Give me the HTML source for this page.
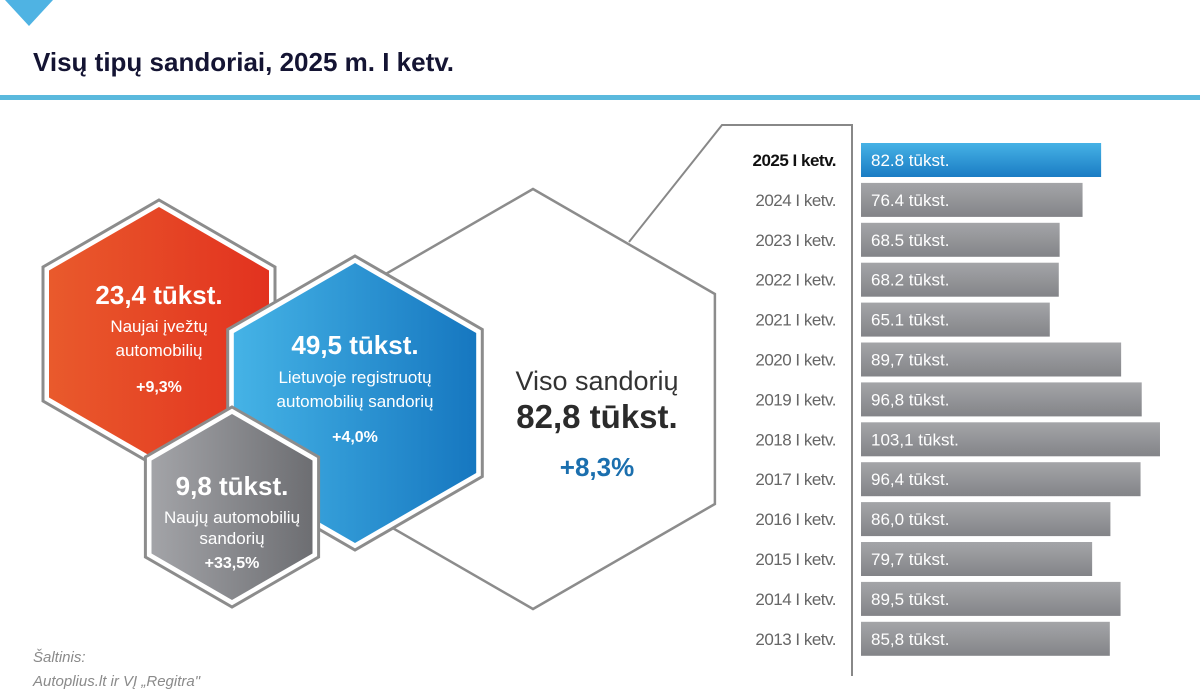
<!DOCTYPE html>
<html><head><meta charset="utf-8">
<style>
body{margin:0;width:1200px;height:700px;overflow:hidden;background:#fff;font-family:"Liberation Sans",sans-serif;position:relative}
svg{position:absolute;left:0;top:0}
</style></head>
<body>
<svg width="1200" height="700" viewBox="0 0 1200 700">
<defs>
<linearGradient id="gRed" x1="0" x2="1"><stop offset="0" stop-color="#e95a2c"/><stop offset="1" stop-color="#e2321f"/></linearGradient>
<linearGradient id="gBlue" x1="0" x2="1"><stop offset="0" stop-color="#45b3e6"/><stop offset="1" stop-color="#1677c0"/></linearGradient>
<linearGradient id="gGray" x1="0" x2="1"><stop offset="0" stop-color="#a3a4a8"/><stop offset="1" stop-color="#6d6e72"/></linearGradient>
<linearGradient id="bGray" x1="0" y1="0" x2="0" y2="1"><stop offset="0" stop-color="#a4a5a8"/><stop offset="1" stop-color="#838488"/></linearGradient>
<linearGradient id="bBlue" x1="0" y1="0" x2="0" y2="1"><stop offset="0" stop-color="#46b2e6"/><stop offset="1" stop-color="#1a7cc4"/></linearGradient>
</defs>
<polygon points="5,0 53,0 29,26" fill="#4fb3e3"/>
<text x="33" y="71" font-size="26" font-weight="bold" fill="#141433">Visų tipų sandoriai, 2025 m. I ketv.</text>
<rect x="0" y="95" width="1200" height="5" fill="#5ab9dd"/>
<g id="hexes"></g>
<polyline points="629,242 722,125 852,125 852,676" fill="none" stroke="#888" stroke-width="2"/>
<g id="bars"></g>
<text x="33" y="662" font-size="15" font-style="italic" fill="#8a8a8a">Šaltinis:</text>
<text x="33" y="686" font-size="15" font-style="italic" fill="#8a8a8a">Autoplius.lt ir VĮ „Regitra"</text>
</svg>
<script>
const categories=["2025 I ketv.","2024 I ketv.","2023 I ketv.","2022 I ketv.","2021 I ketv.","2020 I ketv.","2019 I ketv.","2018 I ketv.","2017 I ketv.","2016 I ketv.","2015 I ketv.","2014 I ketv.","2013 I ketv."];
const values=[82.8,76.4,68.5,68.2,65.1,89.7,96.8,103.1,96.4,86.0,79.7,89.5,85.8];
const valueLabels=["82.8 tūkst.","76.4 tūkst.","68.5 tūkst.","68.2 tūkst.","65.1 tūkst.","89,7 tūkst.","96,8 tūkst.","103,1 tūkst.","96,4 tūkst.","86,0 tūkst.","79,7 tūkst.","89,5 tūkst.","85,8 tūkst."];
const NS="http://www.w3.org/2000/svg";
function mk(t,a,p){const e=document.createElementNS(NS,t);for(const k in a)e.setAttribute(k,a[k]);p.appendChild(e);return e;}
function hexPts(cx,cy,R){let s=[];for(let i=0;i<6;i++){const a=Math.PI/180*(60*i-90);s.push((cx+R*Math.cos(a)).toFixed(1)+","+(cy+R*Math.sin(a)).toFixed(1));}return s.join(" ");}
const H=document.getElementById("hexes");
// big white hexagon
const big=mk("polygon",{points:hexPts(533,399,210),fill:"#fff",stroke:"#8c8c8c","stroke-width":2.5},H);


function colorHex(name,cx,cy,R,fill){
  const o=mk("polygon",{points:hexPts(cx,cy,R),fill:"#fff",stroke:"#8c8c8c","stroke-width":3},H);
  
  
  const f=mk("polygon",{points:hexPts(cx,cy,R-7),fill:fill},H);
  
  
}
colorHex('imported-hexagon',159,334,134,"url(#gRed)");
colorHex('domestic-hexagon',355,403,147,"url(#gBlue)");
colorHex('new-cars-hexagon',232,507,100,"url(#gGray)");
function txt(name,x,y,s,w,fill,str){const t=mk("text",{x:x,y:y,"font-size":s,"font-weight":w,fill:fill,"text-anchor":"middle"},H);t.textContent=str;}
txt('imported-value',159,304,26,"bold","#fff","23,4 tūkst.");
txt('imported-label',159,332,17,"normal","#fff","Naujai įvežtų");
txt('imported-label-2',159,356,17,"normal","#fff","automobilių");
txt('imported-change',159,392,16,"bold","#fff","+9,3%");
txt('domestic-value',355,354,26,"bold","#fff","49,5 tūkst.");
txt('domestic-label',355,383,17,"normal","#fff","Lietuvoje registruotų");
txt('domestic-label-2',355,407,17,"normal","#fff","automobilių sandorių");
txt('domestic-change',355,442,16,"bold","#fff","+4,0%");
txt('new-cars-value',232,495,26,"bold","#fff","9,8 tūkst.");
txt('new-cars-label',232,523,17,"normal","#fff","Naujų automobilių");
txt('new-cars-label-2',232,544,17,"normal","#fff","sandorių");
txt('new-cars-change',232,568,16,"bold","#fff","+33,5%");
txt('total-label',597,390,27,"normal","#333","Viso sandorių");
txt('total-value',597,428,33,"bold","#2b2b2b","82,8 tūkst.");
txt('total-change',597,476,26,"bold","#1b6fae","+8,3%");
// bar chart
const B=document.getElementById("bars");
const x0=861, scale=2.9, y0=143, pitch=39.9, bh=34;
const xs=v=>v*scale, ys=i=>y0+i*pitch;
categories.forEach((c,i)=>{
  const y=ys(i);
  const l=mk("text",{x:836,y:y+bh/2+6,"font-size":17,"text-anchor":"end",fill:i==0?"#111":"#666","font-weight":i==0?"bold":"normal","letter-spacing":"-0.5"},B);
  l.textContent=c;
  
  
  const r=mk("rect",{x:x0,y:y,width:xs(values[i]),height:bh,fill:i==0?"url(#bBlue)":"url(#bGray)"},B);
  
  
  const v=mk("text",{x:x0+10,y:y+bh/2+6,"font-size":17,fill:"#fff"},B);
  v.textContent=valueLabels[i];
  
  
});
</script>
</body></html>
